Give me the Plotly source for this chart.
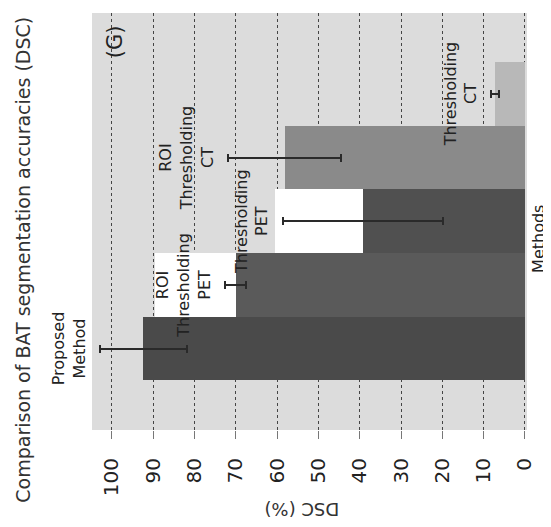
import plotly.graph_objects as go

# ---- data ----
methods = ["Proposed Method", "ROI Thresholding PET", "Thresholding PET",
           "ROI Thresholding CT", "Thresholding CT"]
method_labels = ["Proposed<br>Method", "ROI<br>Thresholding<br>PET", "Thresholding<br>PET",
                 "ROI<br>Thresholding<br>CT", "Thresholding<br>CT"]
dsc_mean = [92.4, 70.0, 39.2, 58.2, 7.2]
dsc_std = [10.5, 2.5, 19.4, 13.6, 0.9]
white_extent = [0, 19.6, 21.3, 0, 0]
tick_values = [0, 10, 20, 30, 40, 50, 60, 70, 80, 90, 100]

bar_colors = ["#4a4a4a", "#5a5a5a", "#505050", "#8a8a8a", "#b8b8b8"]
FONT = "DejaVu Sans"

fig = go.Figure()
fig.add_trace(go.Bar(
    y=methods, x=white_extent, base=dsc_mean, orientation="h",
    marker=dict(color="#ffffff", line_width=0), width=1, hoverinfo="skip",
    showlegend=False))
fig.add_trace(go.Bar(
    y=methods, x=dsc_mean, orientation="h",
    marker=dict(color=bar_colors, line_width=0), width=1,
    error_x=dict(type="data", array=dsc_std, color="#2a2a2a", thickness=2, width=4),
    showlegend=False))

for m, lab, mu, sd in zip(methods, method_labels, dsc_mean, dsc_std):
    fig.add_annotation(x=mu + sd, y=m, xshift=-9, text=lab, textangle=-90,
                       xanchor="right", yanchor="middle", showarrow=False,
                       align="center", font=dict(size=16, color="#222", family=FONT))

fig.add_annotation(xref="paper", yref="paper", x=-0.159, y=0.408,
                   text="Comparison of BAT segmentation accuracies (DSC)",
                   textangle=-90, showarrow=False, xanchor="center", yanchor="middle",
                   font=dict(size=19, color="#333", family=FONT))
fig.add_annotation(xref="paper", yref="paper", x=0.053, y=0.93, text="(G)",
                   textangle=-90, showarrow=False, xanchor="center", yanchor="middle",
                   font=dict(size=21, color="#222", family=FONT))
fig.add_annotation(xref="paper", yref="paper", x=1.025, y=0.458, text="Methods",
                   textangle=-90, showarrow=False, xanchor="center", yanchor="middle",
                   font=dict(size=16, color="#222", family=FONT))
fig.add_annotation(xref="paper", yref="paper", x=0.483, y=-0.192, text="DSC (%)",
                   textangle=180, showarrow=False, xanchor="center", yanchor="middle",
                   font=dict(size=18, color="#333", family=FONT))

fig.update_layout(
    width=543, height=519,
    margin=dict(l=84, r=24, t=5, b=97),
    paper_bgcolor="white", plot_bgcolor="#dcdcdc",
    barmode="overlay", bargap=0,
    font=dict(family=FONT, color="#222"),
    xaxis=dict(range=[104.8, -0.5], tickvals=tick_values, tickangle=-90,
               showgrid=True, gridcolor="#444", griddash="dot", gridwidth=1,
               zeroline=False, ticks="outside", ticklen=8, tickcolor="#777",
               ticklabelstandoff=11, tickfont=dict(size=20, color="#222"),
               showline=False),
    yaxis=dict(type="category", range=[-1.28, 5.27], showticklabels=False,
               showgrid=False, zeroline=False, ticks="", showline=False),
)

fig.write_html("out.html")
